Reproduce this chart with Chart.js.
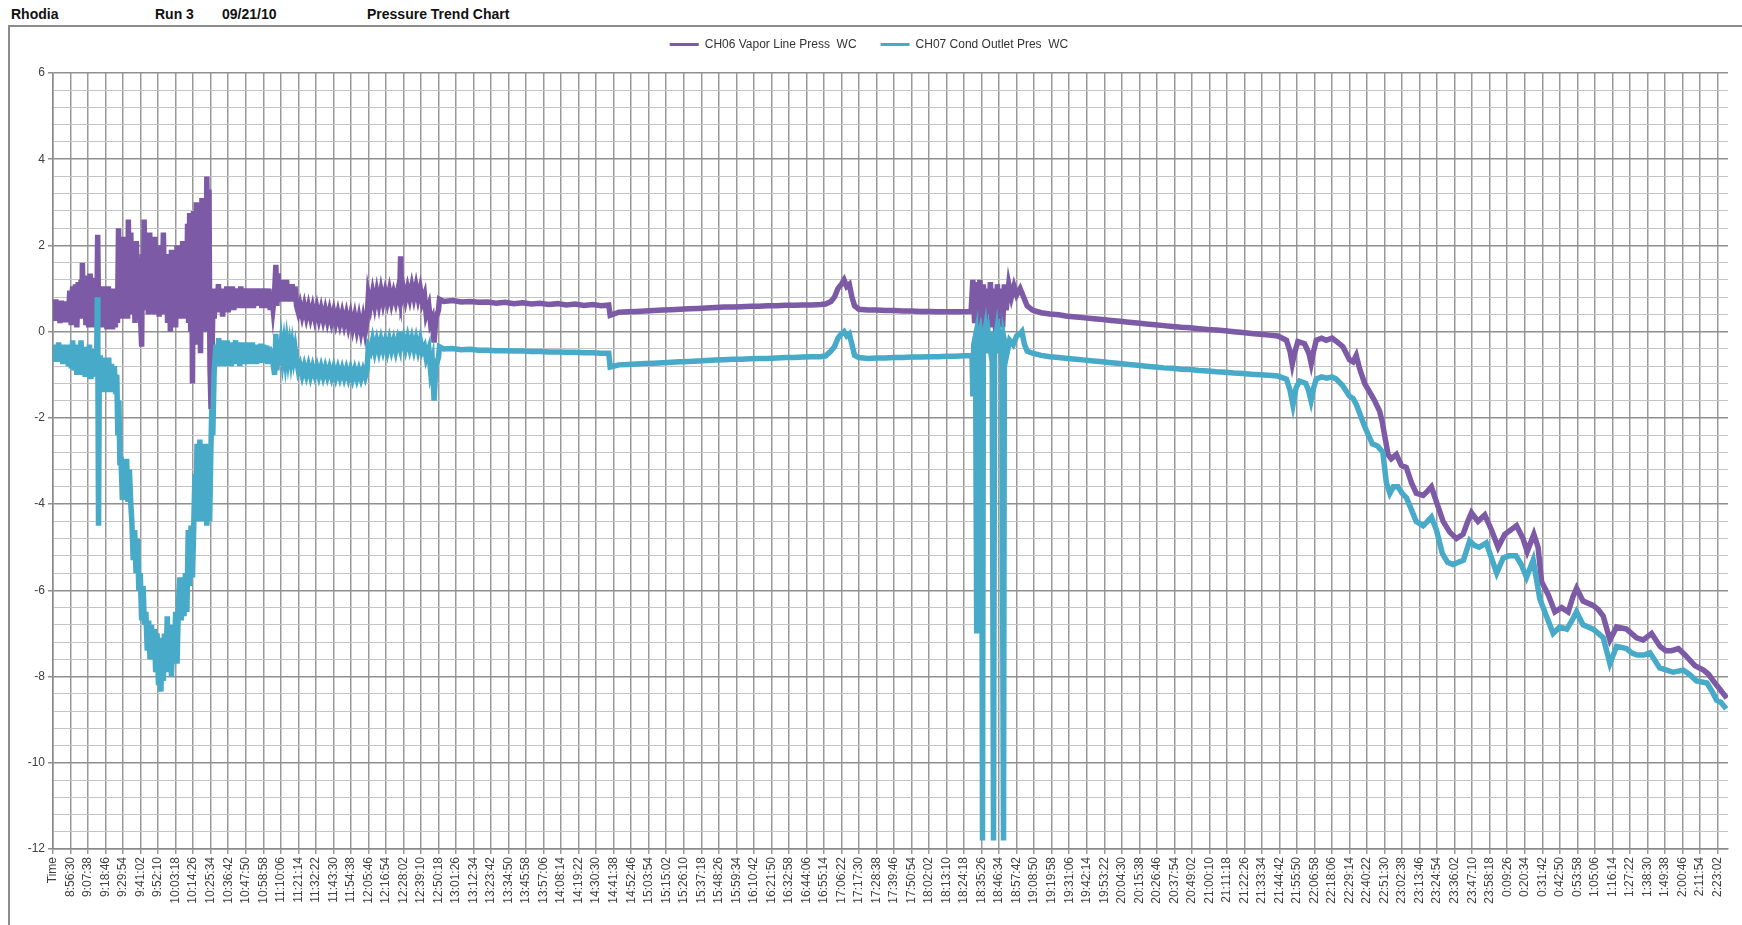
<!DOCTYPE html>
<html>
<head>
<meta charset="utf-8">
<title>Pressure Trend Chart</title>
<script src="https://cdn.jsdelivr.net/npm/chart.js@4.4.1/dist/chart.umd.min.js"></script>
<style>
    body { margin: 0; background: #fff; font-family: 'Liberation Sans', Arial, sans-serif; }
    .head { position: absolute; top: 6px; font-size: 14px; font-weight: bold; color: #111; }
    #chart-box {
        position: absolute; left: 8px; top: 25px; width: 1732px; height: 900px;
        border-left: 2px solid #8c8c8c; border-top: 2px solid #8c8c8c;
    }
    #chart-box canvas { position: absolute; left: 0; top: 0; }
</style>
</head>
<body>
<span class="head" style="left:11px">Rhodia</span>
<span class="head" style="left:155px">Run 3</span>
<span class="head" style="left:222px">09/21/10</span>
<span class="head" style="left:367px">Pressure Trend Chart</span>
<div id="chart-box"><canvas id="pressure-chart" width="1732" height="898"></canvas></div>
<script>
// x positions are in label units: 0 = "Time", 1 = 8:56:30, ... 95 = 2:23:02
const xLabels = ['Time', '8:56:30', '9:07:38', '9:18:46', '9:29:54', '9:41:02', '9:52:10',
    '10:03:18', '10:14:26', '10:25:34', '10:36:42', '10:47:50', '10:58:58',
    '11:10:06', '11:21:14', '11:32:22', '11:43:30', '11:54:38',
    '12:05:46', '12:16:54', '12:28:02', '12:39:10', '12:50:18',
    '13:01:26', '13:12:34', '13:23:42', '13:34:50', '13:45:58', '13:57:06',
    '14:08:14', '14:19:22', '14:30:30', '14:41:38', '14:52:46',
    '15:03:54', '15:15:02', '15:26:10', '15:37:18', '15:48:26', '15:59:34',
    '16:10:42', '16:21:50', '16:32:58', '16:44:06', '16:55:14',
    '17:06:22', '17:17:30', '17:28:38', '17:39:46', '17:50:54',
    '18:02:02', '18:13:10', '18:24:18', '18:35:26', '18:46:34', '18:57:42',
    '19:08:50', '19:19:58', '19:31:06', '19:42:14', '19:53:22',
    '20:04:30', '20:15:38', '20:26:46', '20:37:54', '20:49:02',
    '21:00:10', '21:11:18', '21:22:26', '21:33:34', '21:44:42', '21:55:50',
    '22:06:58', '22:18:06', '22:29:14', '22:40:22', '22:51:30',
    '23:02:38', '23:13:46', '23:24:54', '23:36:02', '23:47:10', '23:58:18',
    '0:09:26', '0:20:34', '0:31:42', '0:42:50', '0:53:58',
    '1:05:06', '1:16:14', '1:27:22', '1:38:30', '1:49:38',
    '2:00:46', '2:11:54', '2:23:02'];

const yTickLabels = [6, 4, 2, 0, -2, -4, -6, -8, -10, -12];

// CH06 Vapor Line Press WC  [x, value]
const ch06 = [
    // 8:56 - 10:30, very noisy
    [0, 0.6], [0.08, 0.25], [0.16, 0.75], [0.24, 0.3], [0.32, 0.7], [0.4, 0.2], [0.48, 0.72], [0.56, 0.3],
    [0.64, 0.68], [0.72, 0.22], [0.8, 0.7], [0.88, 0.35], [0.96, 0.95], [1.04, 0.15], [1.12, 1.05], [1.2, 0.2],
    [1.28, 1.1], [1.36, 0.1], [1.44, 1.15], [1.52, 0.3], [1.6, 1.2], [1.64, 0.4], [1.68, 1.6], [1.72, 0.3],
    [1.8, 1.3], [1.88, 0.15], [1.96, 1.2], [2.04, 0.1], [2.12, 1.35], [2.2, 0.2], [2.28, 1.1], [2.36, 0.1],
    [2.44, 1.25], [2.5, 0.3], [2.55, 2.25], [2.6, 0.4], [2.68, 1.0], [2.76, 0.1], [2.84, 1.05], [2.92, 0.2],
    [3.0, 0.95], [3.08, 0.05], [3.16, 1.05], [3.24, 0.15], [3.32, 0.9], [3.4, 0.05], [3.48, 1.0], [3.56, 0.1],
    [3.62, 0.9], [3.68, 0.2], [3.74, 2.4], [3.8, 0.4], [3.88, 1.8], [3.96, 0.3], [4.04, 2.2], [4.12, 0.6],
    [4.2, 2.0], [4.26, 0.3], [4.3, 2.6], [4.36, 0.5], [4.44, 2.3], [4.52, 0.4], [4.6, 1.9], [4.68, 0.2],
    [4.76, 2.1], [4.84, 0.5], [4.92, 1.7], [5.0, 0.3], [5.06, -0.35], [5.1, 1.8], [5.16, 0.6], [5.2, 2.6],
    [5.28, 0.5], [5.36, 2.0], [5.44, 0.4], [5.52, 2.3], [5.6, 0.7], [5.68, 1.9], [5.76, 0.4], [5.82, 2.2],
    [5.9, 0.5], [5.98, 1.8], [6.06, 0.35], [6.14, 2.0], [6.22, 0.6], [6.3, 2.3], [6.38, 0.4], [6.46, 1.8],
    [6.54, 0.2], [6.62, 1.6], [6.7, 0.0], [6.76, 1.9], [6.84, 0.3], [6.92, 1.5], [7.0, 0.1], [7.08, 2.0],
    [7.16, 0.4], [7.24, 1.8], [7.32, 0.3], [7.4, 2.1], [7.48, 0.5], [7.56, 1.7], [7.62, 0.3], [7.68, 2.5],
    [7.74, 0.2], [7.8, 2.75], [7.86, 0.0], [7.92, 2.2], [7.96, -1.2], [8.02, 2.8], [8.1, -0.3], [8.18, 3.0],
    [8.26, 0.2], [8.34, 2.6], [8.42, -0.5], [8.5, 3.1], [8.58, 0.1], [8.66, 2.9], [8.72, 0.0], [8.78, 3.6],
    [8.84, 0.4], [8.9, 3.3], [8.96, -0.8], [9.02, -1.8], [9.08, -0.5], [9.14, 1.0],
    // 10:30 - 12:05
    [9.2, 0.3], [9.28, 1.0], [9.36, 0.45], [9.44, 1.1], [9.52, 0.5], [9.6, 1.0], [9.68, 0.35], [9.76, 0.95],
    [9.84, 0.5], [9.92, 1.05], [10.0, 0.45], [10.08, 1.0], [10.16, 0.55], [10.24, 1.05], [10.32, 0.5], [10.4, 0.95],
    [10.48, 0.55], [10.56, 1.0], [10.64, 0.6], [10.72, 1.05], [10.8, 0.55], [10.88, 0.95], [10.96, 0.6], [11.04, 1.0],
    [11.12, 0.55], [11.2, 0.95], [11.28, 0.6], [11.36, 1.0], [11.44, 0.55], [11.52, 0.95], [11.6, 0.6], [11.68, 1.0],
    [11.76, 0.6], [11.84, 0.95], [11.92, 0.55], [12.0, 1.0], [12.08, 0.6], [12.16, 0.95], [12.24, 0.55], [12.32, 1.0],
    [12.4, 0.5], [12.48, 0.9], [12.56, 0.55], [12.64, 0.85], [12.72, 1.55], [12.78, 0.6], [12.85, 1.35], [12.93, 0.75],
    [13.01, 1.2], [13.09, 0.7], [13.17, 1.15], [13.25, 0.75], [13.33, 1.2], [13.41, 0.7], [13.49, 1.1], [13.57, 0.75],
    [13.65, 1.1], [13.73, 0.7], [13.81, 1.05], [13.9, 0.6], [14.0, 0.45], [14.1, 0.62], [14.22, 0.38], [14.34, 0.6],
    [14.46, 0.35], [14.58, 0.58], [14.7, 0.34], [14.82, 0.56], [14.94, 0.32], [15.06, 0.55], [15.18, 0.3], [15.3, 0.52],
    [15.42, 0.28], [15.54, 0.5], [15.66, 0.26], [15.78, 0.48], [15.9, 0.24], [16.02, 0.46], [16.14, 0.22], [16.26, 0.44],
    [16.38, 0.2], [16.5, 0.42], [16.62, 0.18], [16.74, 0.4], [16.86, 0.14], [16.98, 0.38], [17.1, 0.1], [17.22, 0.35],
    [17.34, 0.06], [17.46, 0.32], [17.58, 0.02], [17.7, 0.3], [17.82, 0.0], [17.92, 0.25],
    // 12:05 - 12:50
    [18.0, 0.85], [18.12, 0.6], [18.24, 0.9], [18.36, 0.62], [18.48, 0.92], [18.6, 0.65], [18.72, 0.95], [18.84, 0.68],
    [18.96, 0.92], [19.08, 0.7], [19.2, 0.95], [19.32, 0.68], [19.44, 0.9], [19.56, 0.7], [19.68, 0.95], [19.78, 0.75],
    [19.84, 1.75], [19.9, 0.8], [20.0, 1.0], [20.12, 0.75], [20.24, 1.0], [20.36, 0.78], [20.48, 1.05], [20.6, 0.8],
    [20.72, 1.05], [20.84, 0.78], [20.96, 1.0], [21.08, 0.7], [21.2, 0.85], [21.3, 0.4], [21.45, 0.6], [21.55, 0.2],
    [21.65, 0.3], [21.75, -0.25], [21.85, 0.3], [22.0, 0.5], [22.06, 0.75],
    // 12:50 - 14:41
    [22.3, 0.7], [22.8, 0.72], [23.3, 0.69], [23.8, 0.7], [24.3, 0.68], [24.8, 0.69], [25.3, 0.66], [25.8, 0.68],
    [26.3, 0.65], [26.8, 0.67], [27.3, 0.64], [27.8, 0.66], [28.3, 0.63], [28.8, 0.65], [29.3, 0.62], [29.8, 0.64],
    [30.3, 0.61], [30.8, 0.63], [31.3, 0.6], [31.72, 0.62],
    // 14:41 - 18:35
    [31.8, 0.38], [32.3, 0.45], [32.8, 0.46], [33.3, 0.47], [33.8, 0.48], [34.3, 0.49], [34.8, 0.5], [35.3, 0.51],
    [35.8, 0.52], [36.3, 0.53], [36.8, 0.54], [37.3, 0.55], [37.8, 0.56], [38.3, 0.57], [38.8, 0.57], [39.3, 0.58],
    [39.8, 0.59], [40.3, 0.59], [40.8, 0.6], [41.3, 0.6], [41.8, 0.61], [42.3, 0.61], [42.8, 0.62], [43.3, 0.62],
    [43.8, 0.63], [44.1, 0.64], [44.4, 0.7], [44.6, 0.8], [44.8, 1.0], [45.0, 1.1], [45.15, 1.2], [45.3, 1.05],
    [45.45, 1.1], [45.6, 0.8], [45.75, 0.6], [46.0, 0.52], [46.5, 0.5], [47.0, 0.5], [47.5, 0.49], [48.0, 0.49],
    [48.5, 0.48], [49.0, 0.48], [49.5, 0.47], [50.0, 0.47], [50.5, 0.46], [51.0, 0.46], [51.5, 0.46], [52.0, 0.46],
    [52.4, 0.47],
    // 18:35 - 19:08 disturbance
    [52.5, 1.2], [52.6, 0.2], [52.7, 1.15], [52.8, -0.05], [52.9, 1.2], [53.0, 0.3], [53.1, 1.1], [53.2, 0.0],
    [53.3, 1.0], [53.4, 0.4], [53.5, 1.15], [53.6, 0.1], [53.7, 1.0], [53.8, 0.0], [53.9, 1.1], [54.0, 0.3],
    [54.1, 1.0], [54.2, 0.1], [54.3, 1.1], [54.4, 0.5], [54.55, 1.1], [54.7, 0.8], [54.85, 1.05], [55.0, 0.85],
    [55.2, 1.0], [55.4, 0.8], [55.6, 0.6], [55.9, 0.5],
    // 19:08 - 21:55 slow decline
    [56.4, 0.44], [56.9, 0.41], [57.4, 0.39], [57.9, 0.36], [58.4, 0.34], [58.9, 0.32], [59.4, 0.3], [59.9, 0.28],
    [60.4, 0.26], [60.9, 0.24], [61.4, 0.22], [61.9, 0.2], [62.4, 0.18], [62.9, 0.16], [63.4, 0.14], [63.9, 0.12],
    [64.4, 0.1], [64.9, 0.09], [65.4, 0.07], [65.9, 0.05], [66.4, 0.04], [66.9, 0.02], [67.4, 0.0], [67.9, -0.02],
    [68.4, -0.04], [68.9, -0.06], [69.4, -0.08], [69.9, -0.1], [70.4, -0.2],
    // 21:55 - 2:30 drop
    [70.6, -0.45], [70.73, -0.75], [70.86, -0.5], [71.05, -0.23], [71.43, -0.28], [71.68, -0.5], [71.81, -0.74], [71.95, -0.45],
    [72.1, -0.2], [72.4, -0.15], [72.67, -0.2], [73.0, -0.15], [73.24, -0.22], [73.62, -0.35], [74.0, -0.65], [74.2, -0.7],
    [74.38, -0.55], [74.57, -0.85], [74.86, -1.2], [75.15, -1.4], [75.43, -1.6], [75.72, -1.85], [75.87, -2.1], [76.0, -2.4],
    [76.2, -2.85], [76.38, -2.95], [76.67, -2.85], [76.96, -3.1], [77.24, -3.15], [77.53, -3.5], [77.81, -3.75], [78.2, -3.8],
    [78.45, -3.7], [78.67, -3.6], [78.96, -3.95], [79.34, -4.4], [79.72, -4.65], [80.1, -4.8], [80.48, -4.7], [80.75, -4.4],
    [80.96, -4.2], [81.33, -4.4], [81.72, -4.25], [82.1, -4.6], [82.48, -5.0], [82.86, -4.7], [83.2, -4.6], [83.53, -4.5],
    [83.9, -4.8], [84.14, -5.1], [84.52, -4.7], [84.76, -5.0], [84.96, -5.8], [85.34, -6.1], [85.72, -6.5], [86.1, -6.4],
    [86.48, -6.5], [86.75, -6.15], [86.96, -5.95], [87.33, -6.25], [87.9, -6.35], [88.2, -6.45], [88.48, -6.6], [88.86, -7.15],
    [89.24, -6.85], [89.81, -6.9], [90.38, -7.1], [90.76, -7.15], [91.24, -7.0], [91.72, -7.3], [92.05, -7.4], [92.38, -7.4],
    [92.77, -7.35], [93.15, -7.5], [93.72, -7.75], [94.2, -7.85], [94.5, -7.95], [94.76, -8.1], [95.15, -8.3], [95.53, -8.5]
];

// CH07 Cond Outlet Pres WC  [x, value]
const ch07 = [
    // 8:56 - 10:30, deep dip
    [0, -0.3], [0.08, -0.7], [0.16, -0.3], [0.24, -0.65], [0.32, -0.25], [0.4, -0.7], [0.48, -0.35], [0.56, -0.75],
    [0.64, -0.3], [0.72, -0.7], [0.8, -0.4], [0.88, -0.8], [0.96, -0.3], [1.04, -0.85], [1.12, -0.2], [1.2, -0.9],
    [1.28, -0.35], [1.36, -1.0], [1.44, -0.3], [1.52, -0.9], [1.6, -0.2], [1.68, -1.0], [1.76, -0.4], [1.84, -1.05],
    [1.92, -0.35], [2.0, -0.95], [2.08, -0.3], [2.16, -1.1], [2.24, -0.45], [2.32, -1.05], [2.4, -0.4], [2.48, -1.0],
    [2.53, 0.8], [2.56, -0.6], [2.6, -4.5], [2.64, -1.0], [2.7, -0.55], [2.78, -1.3], [2.86, -0.6], [2.94, -1.4],
    [3.02, -0.7], [3.1, -1.35], [3.18, -0.6], [3.26, -1.4], [3.34, -0.75], [3.42, -1.3], [3.5, -0.8], [3.58, -1.45],
    [3.64, -1.0], [3.7, -2.4], [3.76, -1.6], [3.82, -3.1], [3.88, -2.9], [3.96, -3.9], [4.04, -3.0], [4.12, -3.8],
    [4.2, -2.95], [4.28, -3.95], [4.36, -3.2], [4.44, -4.0], [4.5, -4.4], [4.58, -5.3], [4.66, -4.6], [4.74, -5.6],
    [4.82, -4.8], [4.9, -6.0], [4.98, -5.6], [5.06, -6.7], [5.14, -5.9], [5.22, -6.8], [5.3, -6.5], [5.38, -7.4],
    [5.46, -6.7], [5.54, -7.6], [5.62, -6.8], [5.7, -7.5], [5.78, -6.9], [5.86, -7.9], [5.94, -7.0], [6.02, -8.2],
    [6.1, -7.2], [6.16, -8.35], [6.22, -7.1], [6.3, -8.1], [6.36, -7.0], [6.44, -7.9], [6.52, -6.6], [6.6, -7.8],
    [6.68, -6.8], [6.76, -8.0], [6.84, -6.9], [6.92, -7.6], [7.0, -6.5], [7.08, -7.7], [7.16, -6.3], [7.24, -5.7],
    [7.32, -6.7], [7.4, -5.8], [7.48, -6.6], [7.56, -5.6], [7.64, -6.5], [7.72, -4.6], [7.8, -5.9], [7.88, -4.5],
    [7.96, -5.7], [8.04, -4.4], [8.1, -3.3], [8.16, -4.3], [8.22, -2.6], [8.3, -4.4], [8.38, -2.5], [8.46, -4.0],
    [8.54, -2.7], [8.62, -4.4], [8.7, -2.6], [8.78, -4.5], [8.86, -2.8], [8.94, -4.4], [9.0, -3.0], [9.06, -1.8],
    [9.12, -2.4], [9.2, -0.9],
    // 10:30 - 12:05
    [9.3, -0.3], [9.38, -0.75], [9.46, -0.15], [9.54, -0.8], [9.62, -0.2], [9.7, -0.75], [9.78, -0.25], [9.86, -0.8],
    [9.94, -0.2], [10.02, -0.75], [10.1, -0.3], [10.18, -0.8], [10.26, -0.25], [10.34, -0.7], [10.42, -0.2], [10.5, -0.75],
    [10.58, -0.3], [10.66, -0.8], [10.74, -0.25], [10.82, -0.7], [10.9, -0.3], [10.98, -0.75], [11.06, -0.25], [11.14, -0.7],
    [11.22, -0.3], [11.3, -0.75], [11.38, -0.25], [11.46, -0.7], [11.54, -0.3], [11.62, -0.75], [11.7, -0.3], [11.78, -0.72],
    [11.86, -0.28], [11.94, -0.7], [12.02, -0.3], [12.1, -0.72], [12.18, -0.32], [12.26, -0.75], [12.34, -0.35], [12.42, -0.75],
    [12.5, -0.4], [12.58, -0.8], [12.65, -1.0], [12.72, -0.05], [12.78, -0.9], [12.86, -0.3], [12.94, -0.65], [13.02, -0.3],
    [13.1, -0.6], [13.18, -0.32], [13.26, -0.62], [13.34, -0.3], [13.42, -0.6], [13.5, -0.35], [13.58, -0.62], [13.66, -0.35],
    [13.74, -0.6], [13.82, -0.4], [13.9, -0.65], [14.0, -0.9], [14.1, -0.78], [14.22, -1.0], [14.34, -0.8], [14.46, -1.0],
    [14.58, -0.8], [14.7, -1.02], [14.82, -0.82], [14.94, -1.0], [15.06, -0.82], [15.18, -1.02], [15.3, -0.83], [15.42, -1.03],
    [15.54, -0.84], [15.66, -1.03], [15.78, -0.85], [15.9, -1.04], [16.02, -0.85], [16.14, -1.05], [16.26, -0.86], [16.38, -1.05],
    [16.5, -0.87], [16.62, -1.06], [16.74, -0.88], [16.86, -1.07], [16.98, -0.88], [17.1, -1.08], [17.22, -0.89], [17.34, -1.08],
    [17.46, -0.9], [17.58, -1.08], [17.7, -0.9], [17.82, -1.05], [17.92, -0.9],
    // 12:05 - 12:50
    [18.0, -0.35], [18.12, -0.45], [18.24, -0.2], [18.36, -0.45], [18.48, -0.22], [18.6, -0.44], [18.72, -0.2], [18.84, -0.42],
    [18.96, -0.22], [19.08, -0.44], [19.2, -0.2], [19.32, -0.42], [19.44, -0.22], [19.56, -0.44], [19.68, -0.2], [19.78, -0.35],
    [19.84, 0.0], [19.9, -0.3], [20.0, -0.15], [20.12, -0.38], [20.24, -0.15], [20.36, -0.38], [20.48, -0.17], [20.6, -0.4],
    [20.72, -0.18], [20.84, -0.42], [20.96, -0.2], [21.08, -0.45], [21.2, -0.35], [21.3, -0.6], [21.45, -0.4], [21.55, -0.9],
    [21.65, -0.7], [21.75, -1.6], [21.85, -0.8], [22.0, -0.6], [22.06, -0.35],
    // 12:50 - 14:41
    [22.3, -0.4], [22.8, -0.39], [23.3, -0.42], [23.8, -0.41], [24.3, -0.43], [24.8, -0.43], [25.3, -0.44], [25.8, -0.44],
    [26.3, -0.45], [26.8, -0.45], [27.3, -0.46], [27.8, -0.46], [28.3, -0.47], [28.8, -0.47], [29.3, -0.48], [29.8, -0.48],
    [30.3, -0.49], [30.8, -0.49], [31.3, -0.5], [31.72, -0.5],
    // 14:41 - 18:35
    [31.8, -0.82], [32.3, -0.77], [32.8, -0.76], [33.3, -0.75], [33.8, -0.74], [34.3, -0.73], [34.8, -0.72], [35.3, -0.71],
    [35.8, -0.7], [36.3, -0.69], [36.8, -0.68], [37.3, -0.67], [37.8, -0.66], [38.3, -0.65], [38.8, -0.64], [39.3, -0.64],
    [39.8, -0.63], [40.3, -0.62], [40.8, -0.62], [41.3, -0.61], [41.8, -0.6], [42.3, -0.6], [42.8, -0.59], [43.3, -0.58],
    [43.8, -0.58], [44.1, -0.56], [44.4, -0.45], [44.6, -0.35], [44.8, -0.15], [45.0, -0.05], [45.15, 0.0], [45.3, -0.1],
    [45.45, -0.05], [45.6, -0.3], [45.75, -0.55], [46.0, -0.6], [46.5, -0.62], [47.0, -0.61], [47.5, -0.61], [48.0, -0.6],
    [48.5, -0.6], [49.0, -0.59], [49.5, -0.59], [50.0, -0.58], [50.5, -0.58], [51.0, -0.57], [51.5, -0.57], [52.0, -0.56],
    [52.4, -0.56],
    // 18:35 - 19:08 drop-outs
    [52.45, -0.5], [52.5, -1.5], [52.55, -0.3], [52.65, -0.1], [52.72, -7.0], [52.78, -0.2], [52.9, 0.0], [53.0, -0.4],
    [53.05, -11.8], [53.1, -0.2], [53.2, 0.05], [53.3, -0.5], [53.4, -0.1], [53.5, -0.4], [53.6, 0.0], [53.68, -11.8],
    [53.74, -0.3], [53.85, 0.0], [53.95, -0.5], [54.05, -0.1], [54.15, -0.3], [54.25, -11.8], [54.3, -0.2], [54.45, -0.5],
    [54.6, -0.2], [54.8, -0.3], [55.0, -0.1], [55.2, -0.05], [55.3, 0.0], [55.45, -0.3], [55.6, -0.45], [55.9, -0.5],
    // 19:08 - 21:55 slow decline
    [56.4, -0.55], [56.9, -0.58], [57.4, -0.6], [57.9, -0.62], [58.4, -0.64], [58.9, -0.66], [59.4, -0.68], [59.9, -0.7],
    [60.4, -0.72], [60.9, -0.74], [61.4, -0.76], [61.9, -0.78], [62.4, -0.8], [62.9, -0.82], [63.4, -0.84], [63.9, -0.85],
    [64.4, -0.87], [64.9, -0.88], [65.4, -0.9], [65.9, -0.91], [66.4, -0.93], [66.9, -0.94], [67.4, -0.96], [67.9, -0.97],
    [68.4, -0.99], [68.9, -1.0], [69.4, -1.01], [69.9, -1.03], [70.4, -1.1],
    // 21:55 - 2:30 drop
    [70.6, -1.35], [70.77, -1.7], [70.95, -1.3], [71.15, -1.15], [71.5, -1.2], [71.65, -1.35], [71.8, -1.6], [71.95, -1.3],
    [72.1, -1.1], [72.4, -1.05], [72.7, -1.08], [73.0, -1.05], [73.24, -1.1], [73.6, -1.25], [74.0, -1.5], [74.2, -1.55],
    [74.4, -1.7], [74.86, -2.2], [75.3, -2.6], [75.6, -2.65], [75.9, -2.8], [76.1, -3.5], [76.3, -3.75], [76.5, -3.6],
    [76.76, -3.6], [77.0, -3.75], [77.24, -3.85], [77.5, -4.1], [77.8, -4.4], [78.2, -4.5], [78.45, -4.4], [78.67, -4.3],
    [78.96, -4.6], [79.3, -5.15], [79.6, -5.35], [79.9, -5.4], [80.5, -5.3], [80.86, -4.85], [81.1, -4.95], [81.4, -5.0],
    [81.8, -4.9], [82.1, -5.25], [82.4, -5.6], [82.77, -5.25], [83.1, -5.2], [83.5, -5.2], [83.8, -5.4], [84.1, -5.7],
    [84.48, -5.3], [84.86, -6.2], [85.24, -6.6], [85.62, -7.0], [86.0, -6.85], [86.4, -6.9], [86.7, -6.7], [86.95, -6.5],
    [87.33, -6.8], [87.9, -6.9], [88.2, -7.0], [88.48, -7.1], [88.86, -7.7], [89.24, -7.3], [89.8, -7.35], [90.1, -7.45],
    [90.4, -7.5], [90.8, -7.5], [91.15, -7.45], [91.7, -7.8], [92.1, -7.85], [92.48, -7.9], [93.05, -7.85], [93.4, -7.95],
    [93.8, -8.1], [94.4, -8.15], [94.7, -8.35], [94.95, -8.55], [95.2, -8.6], [95.5, -8.75]
];

const isMajorY = v => yTickLabels.includes(Math.round(v * 10) / 10);
const tickFont = { family: "'Liberation Sans', Arial, sans-serif", size: 12 };

// the legend sits higher than Chart.js would put it by default
const legendShift = {
    id: 'legendShift',
    afterLayout(c) {
        c.legend.top -= 12.5;
        c.legend.bottom -= 12.5;
    }
};

const ctx = document.getElementById('pressure-chart').getContext('2d');

const chart = new Chart(ctx, {
    type: 'line',
    data: {
        datasets: [
            {
                label: 'CH06 Vapor Line Press  WC',
                data: ch06.map(p => ({ x: p[0], y: p[1] })),
                borderColor: '#7d5aa6',
                backgroundColor: '#7d5aa6',
                borderWidth: 5.5,
                pointRadius: 0,
                tension: 0,
                order: 1
            },
            {
                label: 'CH07 Cond Outlet Pres  WC',
                data: ch07.map(p => ({ x: p[0], y: p[1] })),
                borderColor: '#47aac8',
                backgroundColor: '#47aac8',
                borderWidth: 5.5,
                pointRadius: 0,
                tension: 0,
                order: 0 // drawn on top of CH06
            }
        ]
    },
    plugins: [legendShift],
    options: {
        responsive: false,
        animation: false,
        events: [],
        layout: { padding: { right: 14 } },
        plugins: {
            legend: {
                position: 'top',
                labels: {
                    boxWidth: 29,
                    boxHeight: 3,
                    padding: 24,
                    color: '#333',
                    font: tickFont,
                    sort: (a, b) => a.datasetIndex - b.datasetIndex,
                    generateLabels: c => Chart.defaults.plugins.legend.labels.generateLabels(c)
                        .map(item => ({ ...item, lineWidth: 0 }))
                }
            },
            tooltip: { enabled: false }
        },
        scales: {
            x: {
                type: 'linear',
                min: 0,
                max: 95.6,
                afterFit: scale => { scale.height = 76; },
                ticks: {
                    stepSize: 1,
                    includeBounds: false,
                    autoSkip: false,
                    maxTicksLimit: 200,
                    minRotation: 90,
                    maxRotation: 90,
                    color: '#404040',
                    font: tickFont,
                    callback: v => xLabels[Math.round(v)] ?? ''
                },
                grid: { color: '#999', lineWidth: 1.5, tickLength: 5, tickColor: '#999' },
                border: { color: '#8a8a8a', width: 1.5 }
            },
            y: {
                min: -12,
                max: 6,
                afterFit: scale => { scale.width = 43; scale.paddingTop = 46; },
                ticks: {
                    stepSize: 0.4,
                    maxTicksLimit: 100,
                    autoSkip: false,
                    color: '#404040',
                    font: tickFont,
                    callback: v => isMajorY(v) ? String(Math.round(v)) : ''
                },
                grid: {
                    color: c => isMajorY(c.tick.value) ? '#8f8f8f' : '#c4c4c4',
                    lineWidth: c => isMajorY(c.tick.value) ? 1.5 : 1,
                    tickLength: 5,
                    tickColor: c => isMajorY(c.tick.value) ? '#8f8f8f' : 'rgba(0,0,0,0)'
                },
                border: { color: '#8a8a8a', width: 1.5 }
            }
        }
    }
});
</script>
</body>
</html>
